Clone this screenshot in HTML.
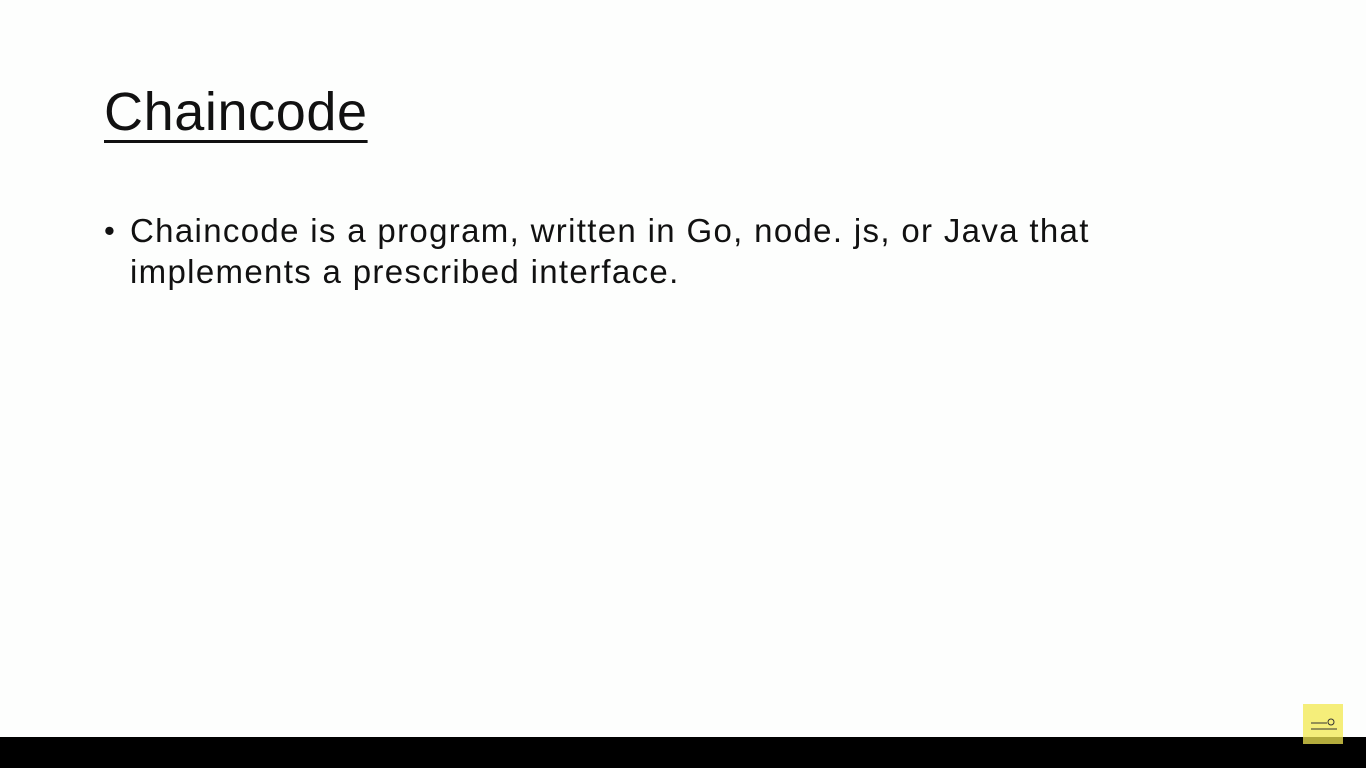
<!DOCTYPE html>
<html><head><style>
html,body{margin:0;padding:0;}
body{width:1366px;height:768px;background:#fdfefd;position:relative;overflow:hidden;font-family:"Liberation Sans",sans-serif;color:#111;}
.t{position:absolute;left:104px;top:80px;font-size:54px;line-height:64px;text-decoration:underline;text-decoration-thickness:3px;text-underline-offset:10px;letter-spacing:0.6px;}
.b{position:absolute;left:130px;top:210px;font-size:33px;line-height:41px;letter-spacing:1.33px;white-space:nowrap;}
.dot{position:absolute;left:104px;top:210px;font-size:31px;line-height:41px;}
.bar{position:absolute;left:0;top:737px;width:1366px;height:31px;background:#000;}
.y{position:absolute;left:1303px;top:704px;width:40px;height:40px;background:#f5ee7a;}
.y2{position:absolute;left:1303px;top:737px;width:40px;height:7px;background:#b3ab3c;}
</style></head><body>
<div class="t">Chaincode</div>
<div class="dot">•</div>
<div class="b">Chaincode is a program, written in Go, node. js, or Java that<br>implements a prescribed interface.</div>
<div class="bar"></div>
<div class="y"><svg width="40" height="40"><g stroke="#333" fill="none" stroke-width="1"><line x1="8" y1="19" x2="24" y2="19"/><circle cx="28" cy="18" r="3"/><line x1="8" y1="25" x2="34" y2="25"/></g></svg></div>
<div class="y2"></div>
</body></html>
